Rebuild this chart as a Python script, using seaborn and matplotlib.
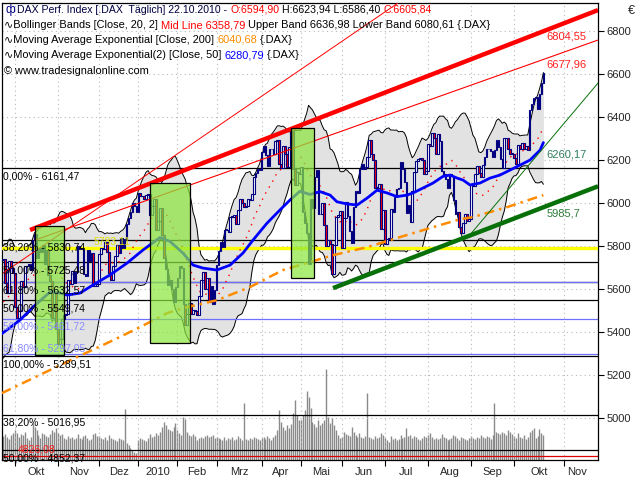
import numpy as np
import pandas as pd
import matplotlib
matplotlib.use("Agg")
import matplotlib.pyplot as plt
import matplotlib.transforms as mtrans
from matplotlib.patches import Rectangle
import seaborn as sns

# DAX daily closes, one list per month
lookback_closes = [5461, 5420, 5480, 5458, 5329, 5310, 5356, 5402, 5480, 5528,
                   5556, 5590, 5601, 5540, 5596, 5663, 5678, 5705, 5651, 5736]  # only feeds the bands
sep09 = [5740, 5630, 5581, 5730, 5700, 5675]
oct09 = [5516, 5468, 5500, 5637, 5610, 5706, 5707, 5717, 5689, 5828, 5856, 5743, 5791, 5771, 5806, 5717, 5780, 5667, 5640, 5468, 5581, 5415]
nov09 = [5346, 5367, 5460, 5480, 5486, 5645, 5625, 5685, 5630, 5680, 5800, 5787, 5788, 5672, 5663, 5780, 5730, 5770, 5614, 5615, 5625]
dec09 = [5762, 5790, 5785, 5817, 5772, 5674, 5645, 5710, 5756, 5806, 5768, 5838, 5790, 5831, 5902, 5932, 5957, 6002, 5985, 5957]
jan10 = [6048, 6032, 6035, 6019, 6037, 6040, 5943, 5985, 6019, 5875, 5918, 5977, 5851, 5746, 5695, 5620, 5645, 5600, 5540, 5608]
feb10 = [5654, 5709, 5700, 5533, 5434, 5484, 5535, 5485, 5503, 5500, 5481, 5568, 5641, 5681, 5603, 5650, 5540, 5614, 5532, 5598]
mar10 = [5713, 5776, 5818, 5795, 5877, 5877, 5866, 5936, 5935, 5945, 5903, 5970, 6017, 6000, 5982, 5987, 6018, 6014, 6040, 6120, 6138, 6157, 6153]
apr10 = [6236, 6264, 6222, 6171, 6250, 6250, 6230, 6290, 6291, 6180, 6163, 6264, 6230, 6168, 6259, 6335, 6160, 6085, 6146, 6135]
may10 = [6166, 5958, 5908, 5860, 5715, 6017, 5979, 6120, 6155, 5947, 5950, 6000, 5900, 5800, 5830, 5810, 5670, 5805, 5937, 5946, 5964]
jun10 = [5790, 5930, 6003, 5938, 5869, 5816, 5984, 6058, 6049, 6158, 6180, 6157, 6166, 6216, 6292, 6226, 6198, 6070, 6070, 6088, 5880, 5966]
jul10 = [5810, 5834, 5840, 5973, 5960, 6028, 6066, 6070, 6190, 6160, 6100, 5955, 5990, 5910, 6055, 6145, 6194, 6203, 6210, 6200, 6135, 6148]
aug10 = [6275, 6266, 6327, 6303, 6226, 6320, 6286, 6148, 6136, 6110, 6070, 6135, 6126, 6015, 5951, 5960, 5891, 5860, 5908, 5951, 5918, 5925]
sep10 = [6083, 6080, 6134, 6170, 6140, 6121, 6178, 6216, 6250, 6250, 6240, 6216, 6248, 6294, 6259, 6206, 6165, 6300, 6300, 6250, 6230, 6229]
oct10 = [6211, 6180, 6270, 6250, 6280, 6250, 6264, 6245, 6434, 6460, 6488, 6492, 6435, 6505, 6556, 6606]

# volume (relative bar heights)
vol_sep09 = [24, 26, 23, 21, 25, 27]
vol_oct09 = [30, 27, 23, 26, 25, 28, 22, 20, 23, 37, 33, 30, 25, 22, 27, 26, 24, 23, 26, 30, 28, 32]
vol_nov09 = [27, 25, 26, 22, 21, 24, 22, 23, 21, 22, 26, 22, 21, 24, 25, 22, 20, 21, 26, 27, 24]
vol_dec09 = [24, 22, 21, 23, 20, 25, 22, 21, 20, 19, 22, 21, 20, 51, 17, 15, 12, 10, 8, 7]
vol_jan10 = [20, 22, 21, 20, 19, 22, 26, 23, 24, 27, 25, 28, 33, 38, 35, 31, 30, 29, 33, 37]
vol_feb10 = [30, 27, 25, 43, 41, 28, 25, 24, 26, 24, 20, 22, 23, 22, 24, 25, 23, 24, 25, 22]
vol_mar10 = [23, 22, 21, 20, 23, 20, 22, 21, 23, 20, 21, 24, 22, 20, 57, 21, 20, 22, 21, 23, 22, 21, 20]
vol_apr10 = [22, 23, 21, 24, 22, 20, 23, 25, 30, 50, 38, 33, 30, 35, 32, 36, 47, 60, 45, 40]
vol_may10 = [40, 45, 50, 69, 63, 52, 38, 36, 33, 40, 35, 37, 40, 91, 43, 37, 42, 35, 30, 25, 22]
vol_jun10 = [23, 28, 26, 25, 24, 33, 28, 25, 23, 27, 23, 22, 24, 67, 23, 22, 21, 24, 22, 23, 27, 25]
vol_jul10 = [22, 20, 18, 24, 21, 22, 20, 21, 25, 22, 23, 32, 24, 25, 22, 24, 23, 21, 20, 22, 24, 23]
vol_aug10 = [25, 27, 23, 21, 22, 21, 22, 26, 23, 22, 20, 21, 22, 25, 24, 22, 20, 23, 22, 21, 20, 22]
vol_sep10 = [24, 22, 21, 23, 22, 25, 23, 22, 24, 23, 21, 25, 57, 28, 27, 26, 28, 27, 25, 30, 28, 26]
vol_oct10 = [24, 22, 27, 23, 22, 25, 21, 23, 28, 30, 32, 22, 24, 31, 27, 25]

month_labels = ["Okt", "Nov", "Dez", "2010", "Feb", "Mrz", "Apr", "Mai", "Jun", "Jul", "Aug", "Sep", "Okt", "Nov"]
month_closes = [oct09, nov09, dec09, jan10, feb10, mar10, apr10, may10, jun10, jul10, aug10, sep10, oct10]
month_vols = [vol_oct09, vol_nov09, vol_dec09, vol_jan10, vol_feb10, vol_mar10, vol_apr10,
              vol_may10, vol_jun10, vol_jul10, vol_aug10, vol_sep10, vol_oct10]

# EMA lines (bar index, value)
ema50_x = [-7.7, 2.6, 9.2, 17.9, 23.0, 26.6, 33.2, 39.9, 48.5, 57.2, 65.4, 74.1, 79.2, 85.8, 91.0, 96.1,
           103.2, 109.9, 116.5, 121.6, 128.8, 135.4, 140.5, 145.6, 150.7, 155.9, 161.0, 164.5, 169.6,
           174.8, 179.9, 185.0, 190.1, 195.2, 200.3, 203.4, 208.5, 213.6, 218.7, 222.3, 225.9, 228.9,
           232.5, 237.6, 242.7, 247.8, 252.9, 258.0, 263.2, 268.3, 270.0]
ema50_v = [5387, 5457, 5517, 5587, 5582, 5573, 5582, 5620, 5666, 5721, 5782, 5840, 5822, 5768, 5712, 5698,
           5689, 5712, 5768, 5828, 5907, 5968, 6014, 6055, 6040, 6053, 6037, 6006, 5996,
           5991, 6023, 6060, 6047, 6030, 6037, 6047, 6070, 6093, 6124, 6130, 6116, 6107,
           6084, 6093, 6116, 6130, 6153, 6176, 6200, 6246, 6281]
ema200_x = [-6.8, 31.7, 48.5, 63.9, 77.7, 85.8, 103.2, 120.1, 136.9, 150.7, 162.5, 179.9, 196.7, 213.6, 227.4, 234.0, 251.4, 270.0]
ema200_v = [5117, 5285, 5356, 5424, 5489, 5512, 5549, 5610, 5689, 5726, 5758, 5795, 5842, 5888, 5925, 5935, 5981, 6037]

# trend lines (bar index, value)
red_thick_x, red_thick_v = [7.7, 297.9], [5875, 6896]
red_thin_x, red_thin_v = [10.2, 297.9], [5828, 6757]
red_steep_x, red_steep_v = [-6.1, 195.7], [5675, 6929]
green_thick_x, green_thick_v = [162.5, 297.9], [5605, 6078]
green_thin_x, green_thin_v = [231.5, 297.9], [5842, 6557]

# marked boxes
box_x0 = [10.2, 68.8, 141.0]
box_x1 = [25.0, 89.4, 152.8]
box_lo = [5294, 5352, 5652]
box_hi = [5893, 6092, 6348]

# retracement levels
black_levels = [6161.47, 5830.74, 5725.48, 5632.57, 5549.74, 5289.51, 5016.95, 4852.37]
black_labels = ["0,00% - 6161,47", "38,20% - 5830,74", "50,00% - 5725,48", "61,80% - 5632,57",
                "50,00% - 5549,74", "100,00% - 5289,51", "38,20% - 5016,95", "50,00% - 4852,37"]
purple_levels = [5632.57, 5461.72, 5297.05]
purple_labels = ["", "50,00% - 5461,72", "61,80% - 5297,05"]
yellow_level, yellow_label = 5792.0, "5783,11"
red_level, red_label = 4826.08, "4826,08"

end_labels = ["6804,55", "6677,96", "6260,17", "5985,7"]
end_values = [6804.55, 6677.96, 6260.17, 5985.7]
end_colors = ["#ff2020", "#ff2020", "#2e7d5b", "#2e7d3a"]

price_ticks = [5000, 5200, 5400, 5600, 5800, 6000, 6200, 6400, 6600, 6800]

# ---------------------------------------------------------------
closes = np.array(sep09 + sum(month_closes, []), dtype=float)
volume = np.array(vol_sep09 + sum(month_vols, []), dtype=float)
x = np.arange(len(closes)) - len(sep09)
month_starts = list(np.cumsum([0] + [len(m) for m in month_closes[:-1]]))
month_starts.append(280.5)  # Nov 2010, in the empty area right of the data
label_pos = [(a + b) / 2 for a, b in zip(month_starts[:-1], month_starts[1:])] + [month_starts[-1] + 6.7]

full = pd.Series(np.r_[lookback_closes, closes])
mid = full.rolling(20).mean().values[len(lookback_closes):]
sd = full.rolling(20).std(ddof=0).values[len(lookback_closes):]
upper, lower = mid + 2 * sd, mid - 2 * sd
opens = np.r_[lookback_closes[-1], closes[:-1]]

sns.set_theme(style="white")
plt.rcParams["font.family"] = ["Liberation Sans", "DejaVu Sans"]
FS = 7.5
HFS = 7.9  # header text

fig = plt.figure(figsize=(6.4, 4.8), dpi=100)
fig.patch.set_facecolor("white")
rect = [2 / 640, 20 / 480, 596 / 640, 457 / 480]
XL = (-6.64, 297.9)
YL = (4807, 6929)

# volume behind the price pane
vax = fig.add_axes(rect)
vax.set_xlim(*XL)
vax.set_ylim(0, 457)
vax.vlines(x, 0, volume, color="#8a8a8a", lw=1.0)
vax.axis("off")

ax = fig.add_axes(rect)
ax.set_zorder(2)
ax.patch.set_alpha(0)
ax.set_xlim(*XL)
ax.set_ylim(*YL)

# grid
ax.set_axisbelow(True)
ax.grid(True, color="#b8b8b8", linestyle=(0, (1, 3)), lw=0.8)

# bollinger bands
ax.fill_between(x, lower, upper, color="#e2e2e2", zorder=1, lw=0)
sns.lineplot(x=x, y=upper, ax=ax, color="black", lw=0.7, zorder=2, estimator=None, sort=False)
sns.lineplot(x=x, y=lower, ax=ax, color="black", lw=0.7, zorder=2, estimator=None, sort=False)
ax.plot(x, mid, color="#ff0000", lw=1.0, linestyle=(0, (1, 4)), zorder=3)

# horizontal levels
for lv in black_levels:
    ax.axhline(lv, color="black", lw=0.9, zorder=2.5)
for lv in purple_levels:
    ax.axhline(lv, color="#7070ff", lw=0.9, zorder=2.5)
ax.axhline(yellow_level, color="#ffff00", lw=2.4, zorder=2.6)
ax.axhline(red_level, color="#e00000", lw=0.9, zorder=2.5)

blend = mtrans.blended_transform_factory(ax.transAxes, ax.transData)
for lv, lab in zip(black_levels, black_labels):
    ax.annotate(lab, xy=(0, lv), xycoords=blend, xytext=(0.5, -2.2), textcoords="offset points",
                va="top", ha="left", fontsize=FS, color="black", zorder=8)
for lv, lab, dy, va in zip(purple_levels, purple_labels, [-1.6, -1.6, 1.0], ["top", "top", "bottom"]):
    ax.annotate(lab, xy=(0, lv), xycoords=blend, xytext=(0.5, dy), textcoords="offset points",
                va=va, ha="left", fontsize=FS, color="#8a8aff", zorder=8)
ax.annotate(yellow_label, xy=(0, yellow_level), xycoords=blend, xytext=(66, 1.0), textcoords="offset points",
            va="bottom", ha="left", fontsize=FS, color="#e0e000", zorder=8)
ax.annotate(red_label, xy=(0, red_level), xycoords=blend, xytext=(11, 0.8), textcoords="offset points",
            va="bottom", ha="left", fontsize=FS, color="#ff2020", zorder=8)

# candles
body_lo = np.minimum(opens, closes)
body_h = np.maximum(np.abs(closes - opens), 3)
colors = np.where(closes >= opens, "white", "#ff0000")
ax.bar(x, body_h, bottom=body_lo, width=0.8, color=colors, edgecolor="#000080", linewidth=0.8, zorder=4)

# moving averages
ax.plot(ema200_x, ema200_v, color="#ff8c00", lw=1.8, linestyle=(0, (4, 2, 1, 2)), zorder=4.5)
sns.lineplot(x=ema50_x, y=ema50_v, ax=ax, color="#0000ff", lw=2.0, zorder=5, estimator=None, sort=False)

# trend lines
ax.plot(red_thick_x, red_thick_v, color="#ff0000", lw=3.2, solid_capstyle="butt", zorder=5.5)
ax.plot(red_thin_x, red_thin_v, color="#ff0000", lw=0.8, zorder=5.5)
ax.plot(red_steep_x, red_steep_v, color="#ff0000", lw=0.7, zorder=5.5)
ax.plot(green_thick_x, green_thick_v, color="#087008", lw=3.2, solid_capstyle="butt", zorder=5.5)
ax.plot(green_thin_x, green_thin_v, color="#087008", lw=0.7, zorder=5.5)

# marked boxes
for x0, x1, lo, hi in zip(box_x0, box_x1, box_lo, box_hi):
    ax.add_patch(Rectangle((x0, lo), x1 - x0, hi - lo, facecolor=(0.55, 0.9, 0.25, 0.72),
                           edgecolor="black", lw=0.9, zorder=6))

# end-of-line values
for lab, v, c in zip(end_labels, end_values, end_colors):
    ax.annotate(lab, xy=(x[-1], v), xytext=(2, -1.5), textcoords="offset points",
                va="top", ha="left", fontsize=FS + 0.5, color=c, zorder=8)

# axes
ax.yaxis.tick_right()
ax.set_yticks(price_ticks)
ax.set_yticklabels([str(t) for t in price_ticks])
ax.tick_params(axis="y", which="major", right=True, length=4, width=0.8, color="black",
               labelsize=FS + 0.5, pad=2, direction="out")
ax.set_xticks(month_starts)
ax.set_xticklabels([""] * len(month_starts))
ax.set_xticks(label_pos, minor=True)
ax.set_xticklabels(month_labels, minor=True)
ax.tick_params(axis="x", which="major", bottom=True, length=4, width=0.8, color="black", direction="out")
ax.tick_params(axis="x", which="minor", bottom=True, length=0, labelsize=FS + 0.5, pad=5)
for s in ax.spines.values():
    s.set_color("black")
    s.set_linewidth(0.9)
ax.set_xlabel("")
ax.set_ylabel("")
fig.text(631 / 640, 1 - 11 / 480, "\u20ac", fontsize=9, ha="center", va="center")

# header block
def header_line(y_px, parts, x_px=17, size=HFS):
    prev = None
    for s, c in parts:
        if prev is None:
            prev = ax.annotate(s, xy=(x_px, 480 - y_px), xycoords="figure pixels", va="center", ha="left",
                               fontsize=size, color=c, annotation_clip=False, zorder=10)
        else:
            prev = ax.annotate(s, xy=(1, 0), xycoords=prev, xytext=(2.2, 0), textcoords="offset points",
                               va="bottom", ha="left", fontsize=size, color=c, annotation_clip=False, zorder=10)

ax.annotate("\u0444", xy=(5, 470), xycoords="figure pixels", va="center", ha="left", fontsize=FS + 1,
            color="#000080", annotation_clip=False, zorder=10)
header_line(10, [("DAX Perf. Index [.DAX  T\u00e4glich] 22.10.2010 -", "#000040"), ("O:6594,90", "#ff0000"),
                 ("H:6623,94 L:6586,40", "black"), ("C:6605,84", "#ff0000")], size=7.6)
header_line(25, [("\u223fBollinger Bands [Close, 20, 2]", "black"), ("Mid Line 6358,79", "#ff0000"),
                 ("Upper Band 6636,98 Lower Band 6080,61 {.DAX}", "black")], x_px=4)
header_line(40, [("\u223fMoving Average Exponential [Close, 200]", "black"), ("6040,68", "#ff8c00"),
                 ("{.DAX}", "black")], x_px=4)
header_line(55, [("\u223fMoving Average Exponential(2) [Close, 50]", "black"), ("6280,79", "#0000ff"),
                 ("{.DAX}", "black")], x_px=4)
header_line(71, [("\u00a9 www.tradesignalonline.com", "black")], x_px=4)

fig.savefig("out.png", dpi=100)
